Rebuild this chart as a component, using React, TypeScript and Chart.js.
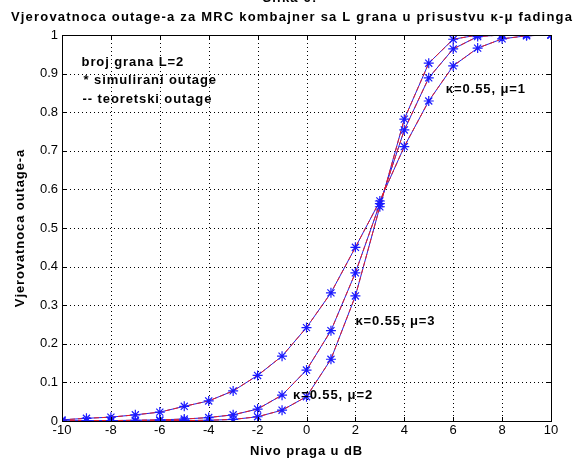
import React, { useEffect, useRef } from "react";
import { Chart, registerables } from "chart.js";

Chart.register(...registerables);

const xValues = [-10, -9, -8, -7, -6, -5, -4, -3, -2, -1, 0, 1, 2, 3, 4, 5, 6, 7, 8, 9, 10];
// kappa=0.55, mu=1 (most gradual)
const outageMu1 = [0.003, 0.007, 0.01, 0.016, 0.023, 0.038, 0.052, 0.078, 0.118, 0.168, 0.242, 0.332, 0.45, 0.57, 0.711, 0.829, 0.92, 0.966, 0.99, 0.998, 1.0];
// kappa=0.55, mu=2
const outageMu2 = [0.0, 0.001, 0.001, 0.002, 0.003, 0.005, 0.009, 0.016, 0.031, 0.067, 0.132, 0.234, 0.384, 0.563, 0.754, 0.889, 0.964, 0.996, 1.0, 1.0, 1.0];
// kappa=0.55, mu=3 (steepest)
const outageMu3 = [0.0, 0.0, 0.0, 0.0, 0.001, 0.001, 0.002, 0.004, 0.011, 0.028, 0.063, 0.16, 0.324, 0.555, 0.782, 0.927, 0.989, 1.0, 1.0, 1.0, 1.0];

const xTicks = [-10, -8, -6, -4, -2, 0, 2, 4, 6, 8, 10];
const yTicks = [0, 0.1, 0.2, 0.3, 0.4, 0.5, 0.6, 0.7, 0.8, 0.9, 1];

const titleText = "Vjerovatnoca outage-a za MRC kombajner sa L grana u prisustvu \u03ba-\u03bc fadinga";
const xTitle = "Nivo praga u dB";
const yTitle = "Vjerovatnoca outage-a";
const legendLines = ["broj grana L=2", "* simulirani outage", "-- teoretski outage"];
const curveLabels = [
  { text: "\u03ba=0.55, \u03bc=1", x: 5.7, y: 0.86 },
  { text: "\u03ba=0.55, \u03bc=3", x: 2.0, y: 0.257 },
  { text: "\u03ba=0.55, \u03bc=2", x: -0.55, y: 0.067 },
];
const legendPos = { x: -9.2, y: [0.93, 0.883, 0.832] };

const FONT = "'Liberation Sans', Arial, sans-serif";

function pts(ys: number[]) {
  return xValues.map((x, i) => ({ x, y: ys[i] }));
}

export default function App() {
  const ref = useRef<HTMLCanvasElement | null>(null);

  useEffect(() => {
    document.body.style.margin = "0";
    const canvas = ref.current;
    if (!canvas) return;

    const series = [outageMu1, outageMu2, outageMu3];
    const datasets: any[] = [];
    series.forEach((s) => {
      datasets.push({
        data: pts(s),
        borderColor: "#2020e8",
        borderWidth: 1,
        pointRadius: 0,
        fill: false,
        tension: 0,
        order: 3,
      });
    });
    series.forEach((s) => {
      datasets.push({
        data: pts(s),
        borderColor: "#e81c24",
        borderWidth: 1,
        borderDash: [5, 3],
        pointRadius: 0,
        fill: false,
        tension: 0,
        order: 2,
      });
    });
    series.forEach((s) => {
      datasets.push({
        data: pts(s),
        showLine: false,
        pointStyle: "star",
        pointRadius: 5,
        pointBorderColor: "#1a1aff",
        pointBackgroundColor: "#1a1aff",
        pointBorderWidth: 1.2,
        order: 1,
      });
    });

    const setSpacing = (ctx: any, v: string) => {
      try {
        ctx.letterSpacing = v;
      } catch (e) {}
    };

    const decor = {
      id: "decor",
      beforeDatasetsDraw(chart: any) {
        const ctx = chart.ctx;
        const a = chart.chartArea;
        const xs = chart.scales.x;
        const ys = chart.scales.y;
        ctx.save();
        ctx.strokeStyle = "#000";
        ctx.lineWidth = 1;
        ctx.setLineDash([1, 3]);
        ctx.beginPath();
        xTicks.forEach((t) => {
          const px = Math.round(xs.getPixelForValue(t)) + 0.5;
          ctx.moveTo(px, a.top);
          ctx.lineTo(px, a.bottom);
        });
        yTicks.forEach((t) => {
          const py = Math.round(ys.getPixelForValue(t)) + 0.5;
          ctx.moveTo(a.left, py);
          ctx.lineTo(a.right, py);
        });
        ctx.stroke();
        ctx.restore();
      },
      afterDraw(chart: any) {
        const ctx = chart.ctx;
        const a = chart.chartArea;
        const xs = chart.scales.x;
        const ys = chart.scales.y;
        ctx.save();
        // box
        ctx.strokeStyle = "#000";
        ctx.lineWidth = 1;
        ctx.setLineDash([]);
        ctx.strokeRect(Math.round(a.left) + 0.5, Math.round(a.top) + 0.5, Math.round(a.right - a.left), Math.round(a.bottom - a.top));
        // inward ticks
        ctx.beginPath();
        xTicks.forEach((t) => {
          const px = Math.round(xs.getPixelForValue(t)) + 0.5;
          ctx.moveTo(px, a.bottom);
          ctx.lineTo(px, a.bottom - 4);
          ctx.moveTo(px, a.top);
          ctx.lineTo(px, a.top + 4);
        });
        yTicks.forEach((t) => {
          const py = Math.round(ys.getPixelForValue(t)) + 0.5;
          ctx.moveTo(a.left, py);
          ctx.lineTo(a.left + 4, py);
          ctx.moveTo(a.right, py);
          ctx.lineTo(a.right - 4, py);
        });
        ctx.stroke();

        ctx.fillStyle = "#000";
        setSpacing(ctx, "1.2px");
        // cut-off caption at very top
        ctx.font = `bold 13px ${FONT}`;
        ctx.textAlign = "center";
        ctx.textBaseline = "alphabetic";
        ctx.fillText("Slika 6:", 290, 2);
        // title
        ctx.font = `bold 13px ${FONT}`;
        ctx.textBaseline = "middle";
        ctx.fillText(titleText, 292, 17);
        // x title
        setSpacing(ctx, "0.9px");
        ctx.font = `bold 13px ${FONT}`;
        ctx.fillText(xTitle, (a.left + a.right) / 2, 451);
        // y title
        ctx.save();
        ctx.translate(20, (a.top + a.bottom) / 2);
        ctx.rotate(-Math.PI / 2);
        ctx.fillText(yTitle, 0, 0);
        ctx.restore();
        // legend text
        ctx.textAlign = "left";
        ctx.font = `bold 13px ${FONT}`;
        legendLines.forEach((t, i) => {
          const px = xs.getPixelForValue(legendPos.x) + (i === 1 ? 2 : i === 2 ? 1 : 0);
          ctx.fillText(t, px, ys.getPixelForValue(legendPos.y[i]));
        });
        curveLabels.forEach((l) => {
          ctx.fillText(l.text, xs.getPixelForValue(l.x), ys.getPixelForValue(l.y));
        });
        setSpacing(ctx, "0px");
        ctx.restore();
      },
    };

    const chart = new Chart(canvas, {
      type: "line",
      data: { datasets },
      plugins: [decor],
      options: {
        responsive: false,
        animation: false,
        devicePixelRatio: 1,
        layout: { padding: { top: 35, right: 30, left: 0, bottom: 0 } },
        plugins: {
          legend: { display: false },
          title: { display: false },
          tooltip: { enabled: false },
        },
        scales: {
          x: {
            type: "linear",
            min: -10,
            max: 10,
            afterFit: (s: any) => {
              s.height = 41;
            },
            afterBuildTicks: (s: any) => {
              s.ticks = xTicks.map((v) => ({ value: v }));
            },
            ticks: {
              color: "#000",
              font: { family: FONT, size: 13 },
              padding: 2,
              maxRotation: 0,
              callback: (v: any) => String(v),
            },
            grid: { display: false, drawTicks: false, tickLength: 0 },
            border: { display: false },
          },
          y: {
            type: "linear",
            min: 0,
            max: 1,
            afterFit: (s: any) => {
              s.width = 62;
            },
            afterBuildTicks: (s: any) => {
              s.ticks = yTicks.map((v) => ({ value: v }));
            },
            ticks: {
              color: "#000",
              font: { family: FONT, size: 13 },
              padding: 4,
              callback: (v: any) => String(Math.round(Number(v) * 10) / 10),
            },
            grid: { display: false, drawTicks: false, tickLength: 0 },
            border: { display: false },
          },
        },
      },
    });
    return () => chart.destroy();
  }, []);

  return (
    <div style={{ width: 581, height: 462, background: "#fff" }}>
      <canvas ref={ref} width={581} height={462} style={{ display: "block", width: 581, height: 462 }} />
    </div>
  );
}
